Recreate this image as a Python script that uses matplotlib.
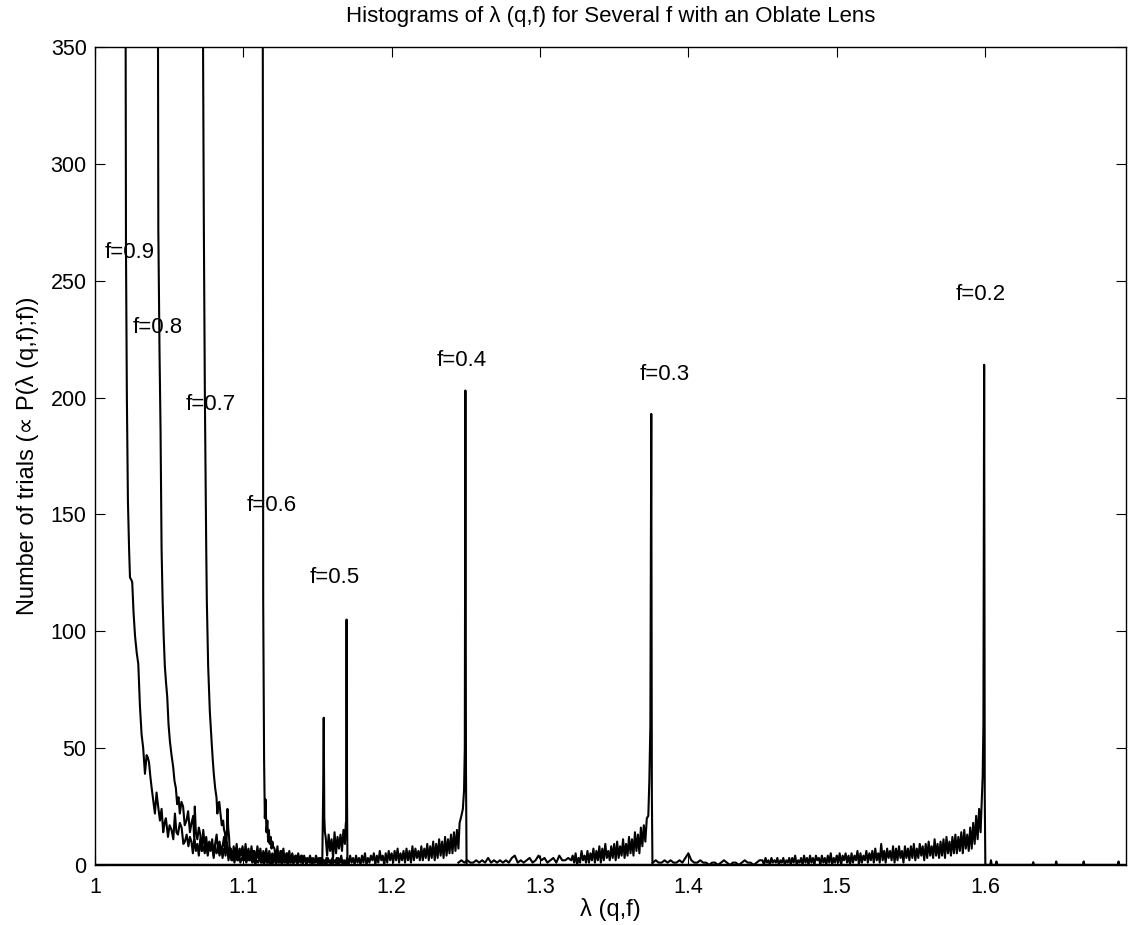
import matplotlib
matplotlib.use("Agg")
import matplotlib.pyplot as plt
import numpy as np

plt.rcParams["font.family"] = ["Liberation Sans", "DejaVu Sans"]

# histogram counts.
# steep parts are listed point by point (lambda, count);
# noisy tails are listed as counts in equal bins: (first bin, bin width, counts)

# f = 0.9
lam_09 = [1.0201, 1.0205, 1.0209, 1.0215, 1.0222, 1.0230, 1.0236, 1.0245,
          1.0251, 1.0260, 1.0270, 1.0281, 1.0292, 1.0303, 1.0314, 1.0325, 1.0337, 1.0348,
          1.0356, 1.0364, 1.0373, 1.0382, 1.0392, 1.0404, 1.0415, 1.0426, 1.0438, 1.0449,
          1.0460, 1.0469, 1.0478, 1.0492, 1.0503, 1.0516, 1.0528, 1.0539, 1.0549, 1.0559,
          1.0572, 1.0584, 1.0596, 1.0606, 1.0618, 1.0630, 1.0640]
n_09 = [1500, 420, 263, 200, 156, 135, 123, 122,
        121, 108, 98, 91, 86, 68, 56, 50, 39, 47,
        46, 44, 38, 33, 28, 22, 31, 25, 19, 24,
        14, 18, 20, 12, 17, 15, 11, 22, 14, 13,
        18, 16, 9, 10, 13, 8, 12]
tail_09 = (1.0650, 0.0010,
           [10, 5, 12, 6, 9, 4, 11, 6, 8, 5,
            10, 4, 8, 6, 9, 3, 8, 5, 7, 4,
            8, 3, 7, 5, 8, 2, 7, 4, 6, 3,
            7, 2, 6, 4, 7, 2, 5, 3, 6, 2,
            5, 2, 6, 1, 5, 3, 4, 1, 5, 2,
            4, 1, 3, 2, 4, 1, 3, 0, 3, 1,
            2, 0, 3, 1, 2, 0, 2, 1, 2, 0])

# f = 0.8
lam_08 = [1.0419, 1.0423, 1.0427, 1.0435, 1.0442, 1.0449, 1.0456, 1.0463,
          1.0471, 1.0479, 1.0487, 1.0496, 1.0505, 1.0516, 1.0527, 1.0536, 1.0545, 1.0554,
          1.0563, 1.0572, 1.0583, 1.0594, 1.0605, 1.0617, 1.0628, 1.0640, 1.0651, 1.0662,
          1.0668, 1.0673, 1.0680, 1.0690, 1.0700]
n_08 = [1500, 420, 272, 220, 186, 135, 113, 98,
        85, 78, 72, 60, 53, 47, 42, 36, 33, 26,
        29, 22, 27, 25, 17, 19, 23, 14, 18, 21,
        12, 25, 14, 11, 16]
tail_08 = (1.0710, 0.0010,
           [13, 6, 15, 8, 12, 5, 10, 7, 11, 4,
            9, 13, 6, 10, 5, 8, 12, 4, 9, 6,
            4, 2, 5, 1, 4, 2, 5, 1, 3, 2,
            4, 1, 3, 2, 4, 1, 3, 0, 2, 1,
            3, 1, 2, 0, 3, 1, 2, 0, 2, 0])

# f = 0.7
lam_07 = [1.0719, 1.0725, 1.0734, 1.0741, 1.0750, 1.0754, 1.0763, 1.0774,
          1.0786, 1.0794, 1.0801, 1.0810, 1.0819, 1.0825, 1.0830, 1.0838, 1.0846, 1.0855,
          1.0864, 1.0870, 1.0875, 1.0881, 1.0887, 1.0893, 1.0898, 1.0904, 1.0909]
n_07 = [1500, 400, 272, 199, 135, 113, 85, 66,
        53, 45, 39, 33, 29, 22, 26, 27, 22, 17,
        19, 15, 14, 11, 9, 24, 16, 12, 5]
tail_07 = (1.0915, 0.0010,
           [7, 2, 8, 3, 9, 2, 7, 4, 8, 2,
            9, 3, 7, 2, 8, 3, 6, 2, 8, 3,
            7, 2, 6, 3, 7, 1, 6, 2, 5, 3,
            6, 1, 5, 2, 6, 1, 4, 2, 5, 1,
            4, 2, 3, 1, 4, 0, 3, 1, 4, 2,
            3, 0, 2, 1, 3, 0, 2, 1, 2, 0])

# f = 0.6
lam_06 = [1.1128, 1.1131, 1.1134, 1.1140, 1.1145, 1.1150, 1.1156, 1.1162,
          1.1167, 1.1172, 1.1178, 1.1185, 1.1190, 1.1196, 1.1201]
n_06 = [1500, 380, 113, 45, 20, 28, 14, 19, 10, 15, 9, 12, 7, 10, 8]
tail_06 = (1.1210, 0.0010,
           [7, 2, 8, 1, 6, 2, 7, 1, 5, 2,
            6, 1, 5, 2, 4, 1, 5, 2, 4, 0,
            4, 1, 3, 2, 4, 0, 3, 1, 4, 2,
            3, 0, 3, 1, 2, 0, 3, 1, 2, 0,
            2, 1, 3, 0, 2, 1, 2, 0, 1, 0])

# f = 0.5 (two spikes with a plateau between them)
lam_05a = [1.1532, 1.1538, 1.1542, 1.1546, 1.1550]
n_05a = [0, 30, 63, 20, 14]
tail_05 = (1.1555, 0.0010, [12, 4, 13, 6, 11, 3, 14, 5, 12, 7, 13, 6, 15, 9])
lam_05b = [1.1690, 1.1693, 1.1696, 1.1699, 1.1702]
n_05b = [17, 19, 105, 30, 0]

# f = 0.4
tail_04 = (1.1500, 0.0010,
           [2, 0, 3, 1, 2, 0, 3, 1, 2, 0,
            3, 1, 2, 0, 3, 1, 4, 0, 2, 1,
            3, 0, 4, 1, 3, 0, 4, 1, 3, 0,
            4, 1, 5, 0, 3, 1, 4, 2, 5, 0,
            4, 1, 6, 2, 4, 0, 5, 1, 6, 2,
            5, 1, 6, 2, 7, 1, 5, 2, 6, 1,
            7, 2, 6, 1, 8, 2, 7, 3, 6, 2,
            8, 2, 7, 3, 9, 2, 8, 3, 10, 2,
            9, 3, 11, 4, 10, 3, 12, 4, 11, 5,
            13, 5, 14, 6, 15, 7])
lam_04b = [1.2458, 1.2470, 1.2480, 1.2488, 1.2493, 1.2497, 1.2501, 1.2505]
n_04b = [18, 21, 24, 32, 50, 203, 40, 0]

# f = 0.3
tail_03a = (1.2450, 0.0020,
            [1, 2, 1, 2, 1, 1, 2, 1, 2, 1, 3, 1, 2, 1, 2, 1, 2, 1, 3, 4, 1, 2, 1, 2, 3, 1,
             2, 4, 2, 3, 1, 2, 3, 1, 4, 2, 2, 3, 2])
tail_03b = (1.3220, 0.0010,
            [4, 1, 5, 0, 3, 1, 6, 2, 4, 1,
             6, 1, 5, 2, 7, 1, 6, 2, 8, 1,
             7, 2, 9, 3, 6, 2, 8, 3, 9, 2,
             10, 3, 8, 4, 11, 3, 9, 4, 12, 5,
             11, 4, 14, 6, 13, 5, 16, 8, 17, 10,
             20])
lam_03c = [1.3730, 1.3737, 1.3744, 1.3750, 1.3754, 1.3758]
n_03c = [21, 36, 60, 193, 30, 0]

# f = 0.2
tail_02a = (1.3760, 0.0020,
            [1, 2, 1, 1, 2, 1, 2, 1, 1, 2, 1, 3, 5, 2, 1, 1, 2, 1, 1, 0, 1, 1, 0, 1, 2, 1,
             0, 1, 1, 0, 1, 2, 1, 1, 0, 1, 2])
tail_02b = (1.4500, 0.0010,
            [2, 0, 3, 1, 2, 0, 3, 1, 2, 1,
             3, 0, 2, 1, 3, 0, 2, 1, 3, 0,
             3, 1, 4, 0, 2, 1, 3, 0, 4, 1,
             3, 0, 4, 1, 3, 0, 4, 2, 3, 0,
             4, 1, 3, 0, 4, 1, 5, 0, 3, 1,
             4, 1, 5, 0, 4, 2, 5, 1, 4, 0,
             5, 1, 4, 2, 6, 0, 5, 1, 4, 2,
             6, 1, 5, 2, 6, 1, 7, 2, 5, 1,
             9, 2, 6, 1, 7, 3, 6, 2, 8, 1,
             7, 2, 8, 3, 6, 1, 8, 3, 7, 2,
             8, 3, 9, 2, 7, 3, 9, 4, 8, 2,
             9, 3, 10, 4, 8, 3, 11, 4, 9, 3,
             10, 4, 11, 3, 12, 5, 10, 4, 12, 5,
             13, 5, 12, 6, 14, 5, 15, 7, 13, 6,
             16, 7, 18, 9, 21, 11, 24, 14])
lam_02d = [1.5978, 1.5984, 1.5989, 1.5994, 1.5998, 1.6002, 1.6035, 1.6040, 1.6045, 1.6072,
           1.6077, 1.6082, 1.6320, 1.6325, 1.6330, 1.6475, 1.6480, 1.6485, 1.6660, 1.6665,
           1.6670, 1.6895, 1.6900, 1.6905]
n_02d = [28, 38, 60, 214, 30, 0, 0, 2, 0, 0, 1.5, 0, 0, 1.2, 0, 0, 1.5, 0, 0, 1.5, 0, 0,
         1.5, 0]

f_labels = ["f=0.9", "f=0.8", "f=0.7", "f=0.6", "f=0.5", "f=0.4", "f=0.3", "f=0.2"]
label_lam = [1.0067, 1.0256, 1.0613, 1.1024, 1.1450, 1.2303, 1.3670, 1.5805]
label_n = [262, 230, 197, 154, 123, 216, 210, 244]

x_ticks = [1.0, 1.1, 1.2, 1.3, 1.4, 1.5, 1.6]
x_ticklabels = ["1", "1.1", "1.2", "1.3", "1.4", "1.5", "1.6"]
y_ticks = [0, 50, 100, 150, 200, 250, 300, 350]


def binned(tail):
    start, width, counts = tail
    lam = start + width * np.arange(len(counts))
    return lam, np.asarray(counts, dtype=float)


def join(*parts):
    lam = np.concatenate([np.asarray(p[0], dtype=float) for p in parts])
    n = np.concatenate([np.asarray(p[1], dtype=float) for p in parts])
    return lam, n


curves = [
    join((lam_09, n_09), binned(tail_09)),
    join((lam_08, n_08), binned(tail_08)),
    join((lam_07, n_07), binned(tail_07)),
    join((lam_06, n_06), binned(tail_06)),
    join((lam_05a, n_05a), binned(tail_05), (lam_05b, n_05b)),
    join(binned(tail_04), (lam_04b, n_04b)),
    join(binned(tail_03a), binned(tail_03b), (lam_03c, n_03c)),
    join(binned(tail_02a), binned(tail_02b), (lam_02d, n_02d)),
]

fig = plt.figure(figsize=(11.28, 9.25), dpi=100)
ax = fig.add_axes([0.0842, 0.0649, 0.9140, 0.8843])
for lam, n in curves:
    ax.plot(lam, n, color="black", linewidth=1.5)
# zero level shared by all histograms outside their ranges
ax.axhline(0, color="black", linewidth=2.5)

for text, x, y in zip(f_labels, label_lam, label_n):
    ax.text(x, y, text, ha="left", va="center", fontsize=16)

ax.set_xlim(1.0, 1.695)
ax.set_ylim(0, 350)
ax.set_xticks(x_ticks)
ax.set_xticklabels(x_ticklabels)
ax.set_yticks(y_ticks)
ax.tick_params(direction="in", length=7, width=0.8, top=True, right=True,
               labelsize=15.5, color="black")
ax.tick_params(axis="x", pad=9)
ax.tick_params(axis="y", pad=6)
for spine in ax.spines.values():
    spine.set_linewidth(1.0)

ax.set_title("Histograms of \u03bb (q,f) for Several f with an Oblate Lens",
             fontsize=16, pad=18)
ax.set_xlabel("\u03bb (q,f)", fontsize=17, labelpad=0)
ax.set_ylabel("Number of trials (\u221d P(\u03bb (q,f);f))", fontsize=17, labelpad=8)

fig.savefig("out.png", dpi=100)
